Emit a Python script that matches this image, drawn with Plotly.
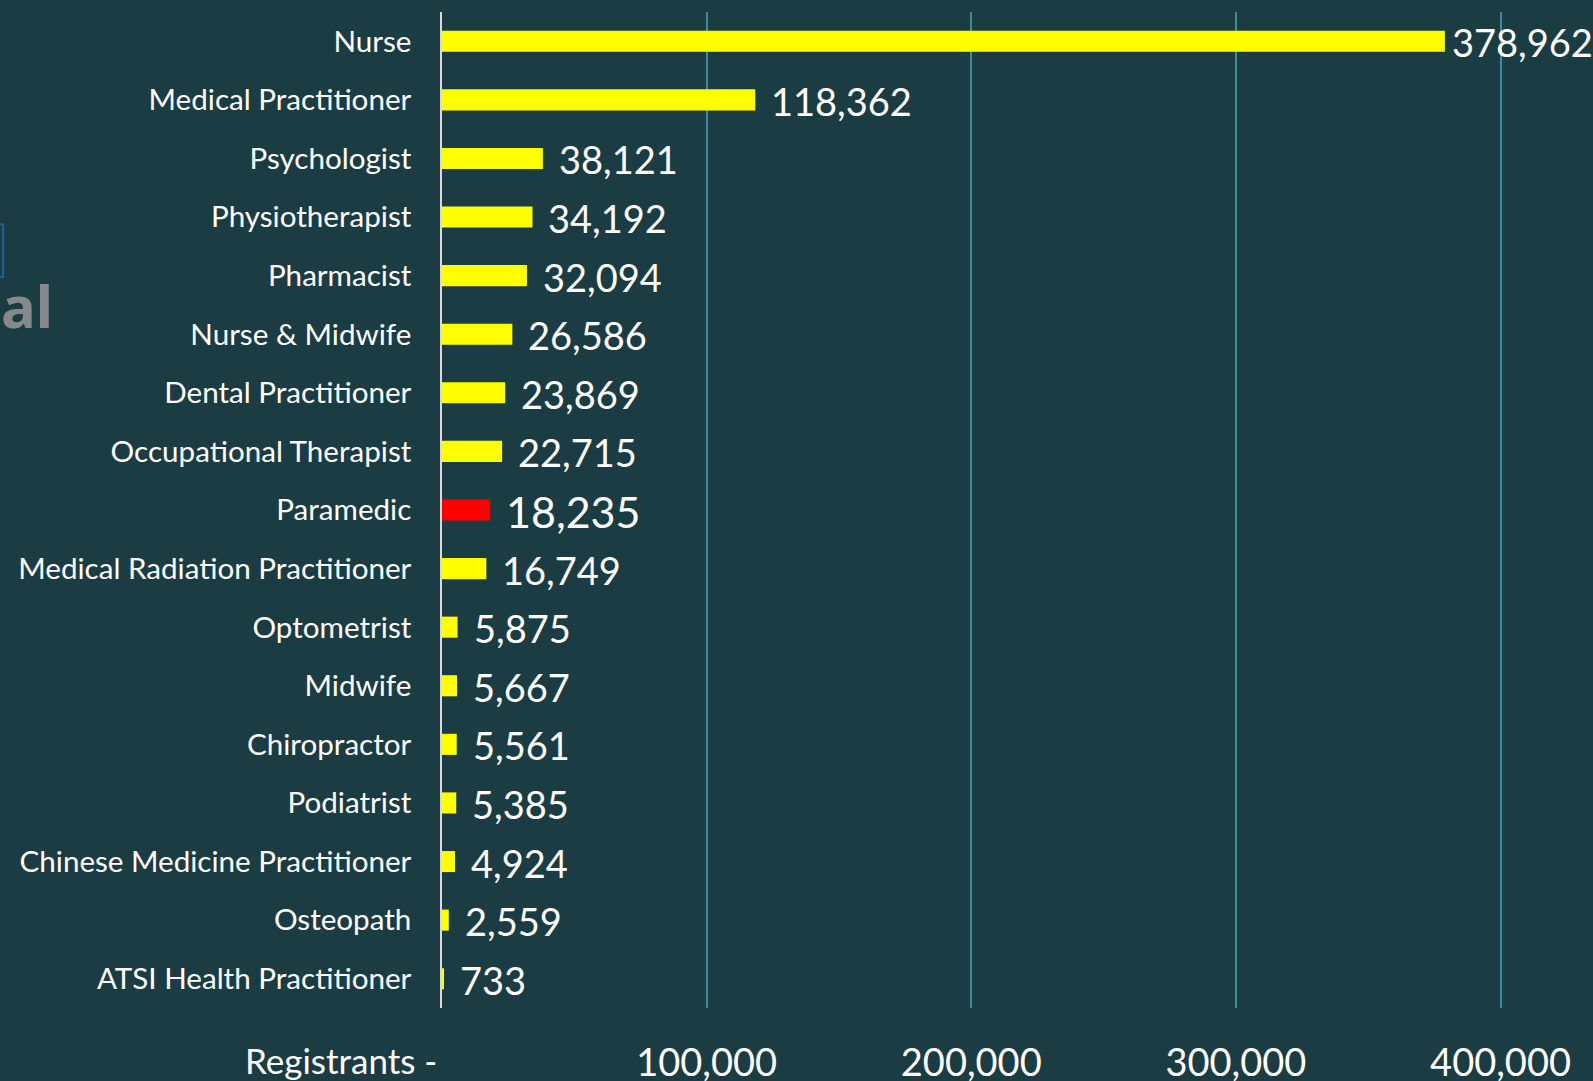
import plotly.graph_objects as go

categories = [
    "Nurse", "Medical Practitioner", "Psychologist", "Physiotherapist", "Pharmacist",
    "Nurse & Midwife", "Dental Practitioner", "Occupational Therapist", "Paramedic",
    "Medical Radiation Practitioner", "Optometrist", "Midwife", "Chiropractor",
    "Podiatrist", "Chinese Medicine Practitioner", "Osteopath", "ATSI Health Practitioner",
]
registrants = [378962, 118362, 38121, 34192, 32094, 26586, 23869, 22715, 18235,
               16749, 5875, 5667, 5561, 5385, 4924, 2559, 733]
highlight = "Paramedic"
x_ticks = [100000, 200000, 300000, 400000]
x_tick_labels = ["100,000", "200,000", "300,000", "400,000"]
axis_title = "Registrants -"

BG = "#1c3c44"
FONT = "Lato"

colors = ["#ff0000" if c == highlight else "#ffff00" for c in categories]
largest = max(registrants)

fig = go.Figure()
fig.add_trace(go.Bar(
    x=registrants, y=categories, orientation="h",
    marker=dict(color=colors, line=dict(width=0)),
    hoverinfo="x+y",
))

annotations = []
for c, v in zip(categories, registrants):
    annotations.append(dict(
        x=v, y=c, xref="x", yref="y", text=f"{v:,}", showarrow=False,
        xanchor="left", yanchor="middle", xshift=5 if v == largest else 14, yshift=-1,
        font=dict(family=FONT, size=43 if c == highlight else 38, color="#ffffff"),
    ))
annotations.append(dict(
    x=0, y=0, xref="x", yref="paper", text=axis_title, showarrow=False,
    xanchor="right", yanchor="top", xshift=-3, yshift=-29,
    font=dict(family=FONT, size=35, color="#ffffff"),
))
# remnant of a cropped logo at the left edge
annotations.append(dict(
    x=-0.3565, y=0.705, xref="paper", yref="paper", text="<b>al</b>", showarrow=False,
    xanchor="right", yanchor="middle",
    font=dict(family="Noto Sans", size=58, color="#85898b"),
))

fig.update_layout(
    width=1593, height=1081,
    paper_bgcolor=BG, plot_bgcolor=BG,
    margin=dict(l=442, r=66, t=12, b=73),
    bargap=0.64,
    showlegend=False,
    annotations=annotations,
    shapes=[dict(type="rect", xref="paper", yref="paper",
                 x0=-0.42, x1=-0.4045, y0=0.734, y1=0.787,
                 line=dict(color="#1f5f9e", width=2), fillcolor=BG)],
    xaxis=dict(
        range=[0, 410000], tickvals=x_ticks, ticktext=x_tick_labels,
        showgrid=True, gridcolor="#3d8c96", gridwidth=1.5,
        zeroline=False, showline=False, ticks="",
        ticklabelstandoff=29, automargin=False,
        tickfont=dict(family=FONT, size=38, color="#ffffff"),
    ),
    yaxis=dict(
        autorange="reversed", showgrid=False, zeroline=False,
        showline=True, linecolor="#d9d9d9", linewidth=1.5, ticks="",
        ticklabelstandoff=23, automargin=False,
        tickfont=dict(family=FONT, size=29.6, color="#ffffff"),
    ),
)

fig.write_html("out.html", post_script="document.body.style.margin='0px';",
               config={"displayModeBar": False})
